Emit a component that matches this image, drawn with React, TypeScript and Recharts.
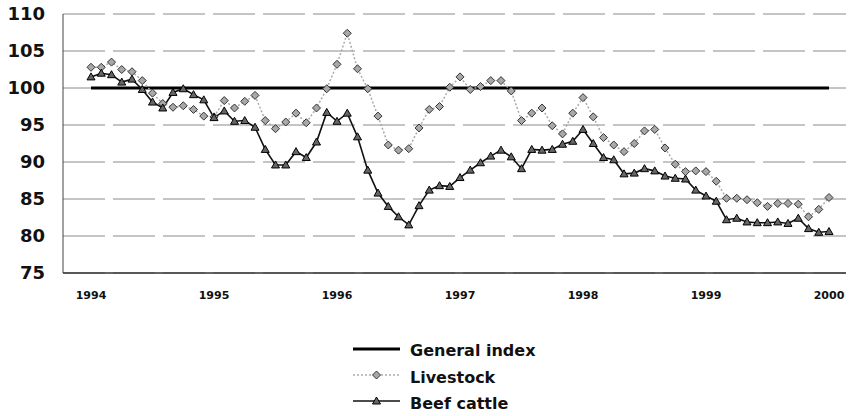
import React from "react"
import { LineChart, Line, XAxis, YAxis, CartesianGrid } from "recharts"

// monthly index values, Jan 1994 .. Jan 2000
const generalIndex = [
  100, 100, 100, 100, 100, 100, 100, 100, 100, 100, 100, 100,
  100, 100, 100, 100, 100, 100, 100, 100, 100, 100, 100, 100,
  100, 100, 100, 100, 100, 100, 100, 100, 100, 100, 100, 100,
  100, 100, 100, 100, 100, 100, 100, 100, 100, 100, 100, 100,
  100, 100, 100, 100, 100, 100, 100, 100, 100, 100, 100, 100,
  100, 100, 100, 100, 100, 100, 100, 100, 100, 100, 100, 100,
  100,
]

const livestock = [
  102.8, 102.8, 103.5, 102.5, 102.2, 101.0, 99.3, 97.9, 97.4, 97.6, 97.1, 96.2,
  96.1, 98.3, 97.3, 98.2, 99.0, 95.6, 94.5, 95.4, 96.6, 95.3, 97.3, 99.9,
  103.2, 107.4, 102.6, 99.9, 96.2, 92.3, 91.6, 91.8, 94.6, 97.1, 97.5, 100.1,
  101.5, 99.8, 100.2, 101.0, 101.0, 99.6, 95.6, 96.6, 97.3, 94.9, 93.8, 96.6,
  98.7, 96.1, 93.3, 92.3, 91.4, 92.5, 94.2, 94.4, 91.9, 89.7, 88.7, 88.8,
  88.7, 87.4, 85.1, 85.1, 84.9, 84.5, 84.0, 84.4, 84.4, 84.3, 82.6, 83.6,
  85.2,
]

const beefCattle = [
  101.5, 102.0, 101.8, 100.8, 101.2, 99.8, 98.1, 97.3, 99.4, 99.9, 99.1, 98.4,
  96.0, 96.9, 95.5, 95.6, 94.7, 91.7, 89.6, 89.6, 91.4, 90.6, 92.7, 96.7,
  95.5, 96.6, 93.4, 88.9, 85.8, 84.0, 82.6, 81.5, 84.1, 86.2, 86.8, 86.7,
  87.9, 88.9, 89.9, 90.8, 91.6, 90.7, 89.1, 91.7, 91.6, 91.7, 92.4, 92.8,
  94.4, 92.5, 90.6, 90.3, 88.4, 88.5, 89.1, 88.8, 88.1, 87.8, 87.7, 86.2,
  85.4, 84.7, 82.2, 82.4, 81.9, 81.8, 81.8, 81.9, 81.7, 82.4, 81.0, 80.5,
  80.6,
]

const yearLabels = ["1994", "1995", "1996", "1997", "1998", "1999", "2000"]
const yearTicks = [0, 12, 24, 36, 48, 60, 72]
const yTicks = [75, 80, 85, 90, 95, 100, 105, 110]

const data = livestock.map((v, i) => ({
  idx: i,
  general: generalIndex[i],
  livestock: v,
  beef: beefCattle[i],
}))

const FONT = "'DejaVu Sans', Verdana, sans-serif"

const DiamondDot = (props: any) => {
  const { cx, cy, index } = props
  if (cx == null || cy == null) return <g key={`d${index}`} />
  const r = 4
  return (
    <path
      key={`d${index}`}
      d={`M${cx},${cy - r}L${cx + r},${cy}L${cx},${cy + r}L${cx - r},${cy}Z`}
      fill="#a8a8a8"
      stroke="#333"
      strokeWidth={1}
    />
  )
}

const TriangleDot = (props: any) => {
  const { cx, cy, index } = props
  if (cx == null || cy == null) return <g key={`t${index}`} />
  return (
    <path
      key={`t${index}`}
      d={`M${cx},${cy - 4}L${cx + 4},${cy + 3}L${cx - 4},${cy + 3}Z`}
      fill="#666"
      stroke="#000"
      strokeWidth={1}
    />
  )
}

function ChartLegend() {
  return (
    <svg width={230} height={80} style={{ position: "absolute", left: 345, top: 337 }}>
      <g>
        <line x1={8} x2={55} y1={12} y2={12} stroke="#000" strokeWidth={3} />
        <text x={65} y={13} dy="0.35em" fontFamily={FONT} fontWeight="bold" fontSize={16} fill="#111">
          General index
        </text>
      </g>
      <g>
        <line x1={8} x2={55} y1={38} y2={38} stroke="#aaa" strokeWidth={1.5} strokeDasharray="2 2" />
        <path d="M31.5,34L35.5,38L31.5,42L27.5,38Z" fill="#a8a8a8" stroke="#333" />
        <text x={65} y={40} dy="0.35em" fontFamily={FONT} fontWeight="bold" fontSize={16} fill="#111">
          Livestock
        </text>
      </g>
      <g>
        <line x1={8} x2={55} y1={64} y2={64} stroke="#111" strokeWidth={1.5} />
        <path d="M31.5,60L35.5,67L27.5,67Z" fill="#666" stroke="#000" />
        <text x={65} y={66} dy="0.35em" fontFamily={FONT} fontWeight="bold" fontSize={16} fill="#111">
          Beef cattle
        </text>
      </g>
    </svg>
  )
}

export default function App() {
  return (
    <div style={{ position: "absolute", left: 0, top: 0, width: 857, height: 416, background: "#fff" }}>
      <LineChart width={857} height={416} data={data} margin={{ top: 14, right: 11, bottom: 113, left: 8 }}>
        <CartesianGrid vertical={false} stroke="#8a8a8a" strokeDasharray="42 8" />
        <XAxis
          dataKey="idx"
          type="number"
          domain={[0, 72]}
          ticks={yearTicks}
          interval={0}
          tickFormatter={(v: number) => yearLabels[yearTicks.indexOf(v)] ?? ""}
          padding={{ left: 28, right: 17 }}
          height={30}
          tickSize={0}
          tickMargin={18}
          axisLine={{ stroke: "#333", strokeWidth: 1.5 }}
          tick={{ fontFamily: FONT, fontWeight: "bold", fontSize: 11, fill: "#111" }}
        />
        <YAxis
          domain={[75, 110]}
          ticks={yTicks}
          interval={0}
          width={55}
          tickSize={0}
          tickMargin={18}
          axisLine={{ stroke: "#444", strokeWidth: 1 }}
          tick={{ fontFamily: FONT, fontWeight: "bold", fontSize: 18, fill: "#111" }}
        />
        <Line
          dataKey="general"
          name="General index"
          stroke="#000"
          strokeWidth={3}
          dot={false}
          isAnimationActive={false}
        />
        <Line
          dataKey="livestock"
          name="Livestock"
          stroke="#aaa"
          strokeWidth={1.5}
          strokeDasharray="2 2"
          dot={DiamondDot}
          isAnimationActive={false}
        />
        <Line
          dataKey="beef"
          name="Beef cattle"
          stroke="#111"
          strokeWidth={1.6}
          dot={TriangleDot}
          isAnimationActive={false}
        />
      </LineChart>
      <ChartLegend />
    </div>
  )
}
